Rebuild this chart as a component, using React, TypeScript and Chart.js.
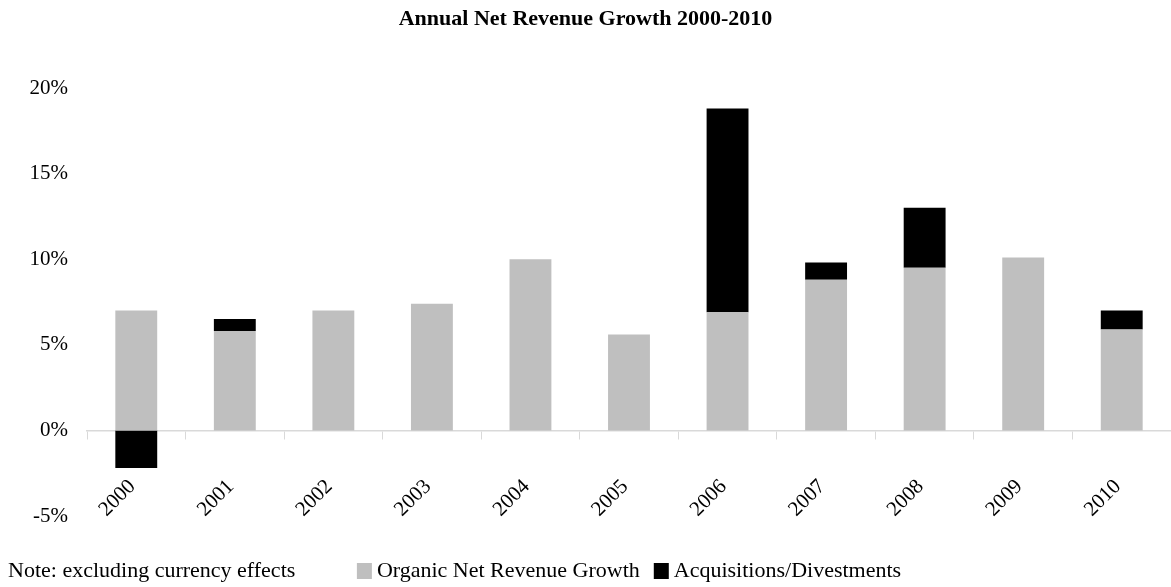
import React, { useEffect, useRef } from "react";
import { Chart, registerables } from "chart.js";

Chart.register(...registerables);

const chartTitle = "Annual Net Revenue Growth 2000-2010";
const noteText = "Note: excluding currency effects";
const categories = ["2000", "2001", "2002", "2003", "2004", "2005", "2006", "2007", "2008", "2009", "2010"];
const organicGrowth = [7.0, 5.8, 7.0, 7.4, 10.0, 5.6, 6.9, 8.8, 9.5, 10.1, 5.9];
const acquisitionsDivestments = [-2.2, 0.7, 0, 0, 0, 0, 11.9, 1.0, 3.5, 0, 1.1];
const seriesLabels = ["Organic Net Revenue Growth", "Acquisitions/Divestments"];
const yTickValues = [-5, 0, 5, 10, 15, 20];

const FONT = '"Liberation Serif", "Times New Roman", serif';

const legendNotePlugin = {
  id: "legendNote",
  afterDraw(chart: any) {
    const ctx = chart.ctx as CanvasRenderingContext2D;
    const area = chart.chartArea;
    ctx.save();
    ctx.font = `22px ${FONT}`;
    ctx.textBaseline = "middle";
    ctx.textAlign = "left";
    const y = 571;
    ctx.fillStyle = "#000";
    ctx.fillText(noteText, 8, y);
    const box = 15;
    const gapText = 5;
    const gapItem = 14;
    const items = chart.data.datasets.map((ds: any) => ({
      label: ds.label,
      color: ds.backgroundColor,
      w: ctx.measureText(ds.label).width,
    }));
    const total =
      items.reduce((s: number, it: any) => s + box + gapText + it.w, 0) + gapItem * (items.length - 1);
    let x = (area.left + area.right) / 2 - total / 2;
    items.forEach((it: any) => {
      ctx.fillStyle = it.color;
      ctx.fillRect(x, y - 8, box, box + 1);
      x += box + gapText;
      ctx.fillStyle = "#000";
      ctx.fillText(it.label, x, y);
      x += it.w + gapItem;
    });
    ctx.restore();
  },
};

export default function App() {
  const ref = useRef<HTMLCanvasElement | null>(null);

  useEffect(() => {
    document.body.style.margin = "0";
    if (!ref.current) return;
    const chart = new Chart(ref.current, {
      type: "bar",
      data: {
        labels: categories,
        datasets: [
          {
            label: seriesLabels[0],
            data: organicGrowth,
            backgroundColor: "#bfbfbf",
            borderWidth: 0,
            barPercentage: 0.425,
            categoryPercentage: 1,
          },
          {
            label: seriesLabels[1],
            data: acquisitionsDivestments,
            backgroundColor: "#000000",
            borderWidth: 0,
            barPercentage: 0.425,
            categoryPercentage: 1,
          },
        ],
      },
      options: {
        animation: false,
        responsive: false,
        layout: { padding: { left: 0, right: 0, top: 0, bottom: 71 } },
        plugins: {
          legend: { display: false },
          tooltip: { enabled: false },
          title: {
            display: true,
            text: chartTitle,
            color: "#000",
            font: { family: FONT, size: 22, weight: "bold" },
            padding: { top: 6, bottom: 55.6 },
          },
        },
        scales: {
          x: {
            stacked: true,
            position: { y: 0 } as any,
            grid: {
              display: true,
              drawOnChartArea: false,
              drawTicks: true,
              tickLength: 8,
              color: "#d9d9d9",
              offset: true,
            },
            border: { display: true, color: "#d9d9d9", width: 1.5 },
            ticks: {
              color: "#000",
              font: { family: FONT, size: 21 },
              minRotation: 45,
              maxRotation: 45,
              autoSkip: false,
              padding: 36,
              labelOffset: -4,
            },
            afterFit: (scale: any) => {
              scale.height = 0;
              scale.paddingLeft = 0;
              scale.paddingRight = 0;
            },
          },
          y: {
            stacked: true,
            min: yTickValues[0],
            max: yTickValues[yTickValues.length - 1],
            grid: { display: false, drawTicks: false },
            border: { display: false },
            ticks: {
              stepSize: yTickValues[1] - yTickValues[0],
              color: "#000",
              font: { family: FONT, size: 21 },
              padding: 19,
              callback: (v: any) => `${v}%`,
            },
            afterFit: (scale: any) => {
              scale.width = 87;
            },
          },
        },
      },
      plugins: [legendNotePlugin],
    });
    return () => chart.destroy();
  }, []);

  return (
    <div style={{ width: 1171, height: 587 }}>
      <canvas ref={ref} width={1171} height={587} style={{ display: "block" }} />
    </div>
  );
}
